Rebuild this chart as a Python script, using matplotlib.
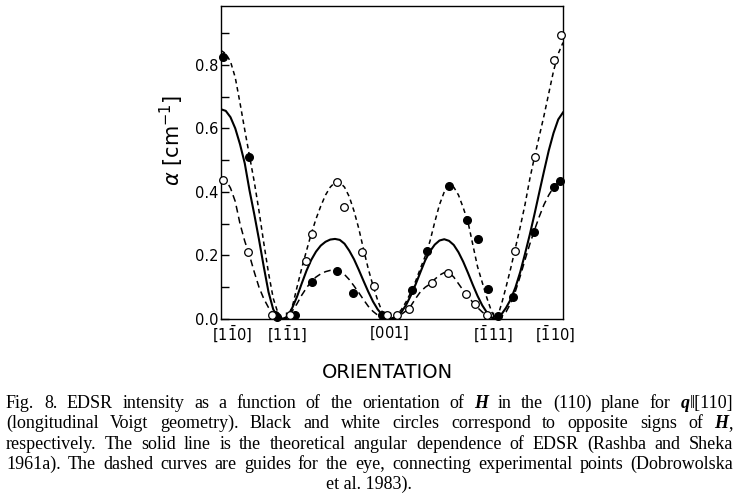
import matplotlib
matplotlib.use("Agg")
import matplotlib.pyplot as plt
import matplotlib.transforms as mtransforms

# angle of H in the (110) plane, degrees from [1-10]
solid_x = [0, 2.5, 5, 7.5, 10, 12.5, 15, 17.5, 20, 22.5, 25, 27.5, 30, 33,
           35, 37.5, 40, 42.5, 45, 47.5, 50, 52.5, 55, 57.5, 60, 62.5, 65, 67.5,
           70, 72.5, 75, 77.5, 80, 82.5, 85, 87.5, 89,
           92.5, 95, 97.5, 100, 102.5, 105, 107.5, 110, 112.5, 115, 117.5, 120,
           122.5, 125, 127.5, 130, 132.5, 135, 137.5, 140, 142.5, 144,
           146, 148, 150, 152.5, 155, 157.5, 160, 162.5, 165, 167.5, 170, 172.5,
           175, 177.5, 180]
solid_y = [0.660, 0.655, 0.635, 0.600, 0.550, 0.490, 0.405, 0.330, 0.250, 0.165,
           0.085, 0.030, 0.006, 0.000,
           0.008, 0.035, 0.070, 0.112, 0.152, 0.186, 0.212, 0.231, 0.243, 0.250,
           0.252, 0.249, 0.237, 0.215, 0.188, 0.155, 0.120, 0.086, 0.055, 0.030,
           0.012, 0.002, 0.000,
           0.008, 0.022, 0.045, 0.075, 0.110, 0.148, 0.185, 0.213, 0.234, 0.247,
           0.251, 0.246, 0.233, 0.210, 0.180, 0.145, 0.108, 0.073, 0.043, 0.020,
           0.005, 0.000,
           0.005, 0.018, 0.035, 0.062, 0.100, 0.148, 0.205, 0.265, 0.330, 0.398,
           0.465, 0.530, 0.585, 0.628, 0.650]

# upper dashed guide
upper_x = [0, 2.5, 5, 7.5, 10, 12.5, 15, 17.5, 20, 22.5, 25, 27.5, 30, 32, 34,
           36, 38, 40, 42.5, 45, 47.5, 50, 52.5, 55, 57.5, 60, 62.5, 65, 67.5,
           70, 72.5, 75, 77.5, 80, 82.5, 85, 87.5, 89,
           90, 92.5, 95, 97.5, 100, 102.5, 105, 107.5, 110, 112.5, 115, 117.5,
           120, 122.5, 125, 127.5, 130, 132.5, 135, 137.5, 140, 142.5, 144.5,
           146.5, 148, 150, 152.5, 155, 157.5, 160, 162.5, 165, 167.5, 170,
           172.5, 175, 177.5, 180]
upper_y = [0.845, 0.835, 0.810, 0.760, 0.680, 0.595, 0.513, 0.432, 0.340, 0.240,
           0.145, 0.065, 0.018, 0.003, 0.000,
           0.010, 0.050, 0.100, 0.160, 0.215, 0.268, 0.315, 0.355, 0.390, 0.415,
           0.430, 0.430, 0.415, 0.385, 0.340, 0.285, 0.220, 0.158, 0.105, 0.058,
           0.020, 0.003, 0.000,
           0.001, 0.012, 0.030, 0.055, 0.085, 0.120, 0.160, 0.198, 0.245, 0.305,
           0.360, 0.400, 0.420, 0.415, 0.390, 0.350, 0.305, 0.235, 0.165, 0.115,
           0.065, 0.022, 0.002,
           0.025, 0.055, 0.100, 0.160, 0.225, 0.290, 0.360, 0.440, 0.510, 0.575,
           0.640, 0.710, 0.780, 0.835, 0.870]

# lower dashed guide
lower_x = [0, 2.5, 5, 7.5, 10, 12.5, 15, 17.5, 20, 22.5, 25, 27.5, 30, 32,
           35, 37.5, 40, 42.5, 45, 47.5, 50, 52.5, 55, 57.5, 60, 62.5, 65, 67.5,
           70, 72.5, 75, 77.5, 80, 82.5, 85, 87.5,
           90, 92.5, 95, 97.5, 100, 102.5, 105, 107.5, 110, 112.5, 115, 117.5,
           120, 122.5, 125, 127.5, 130, 132.5, 135, 137.5, 140, 142.5, 145,
           147.5, 150, 152.5, 155, 157.5, 160, 162.5, 165, 167.5, 170, 172.5,
           175, 177.5, 180]
lower_y = [0.445, 0.438, 0.412, 0.370, 0.300, 0.245, 0.200, 0.148, 0.100, 0.064,
           0.036, 0.016, 0.004, 0.000,
           0.008, 0.025, 0.048, 0.075, 0.098, 0.118, 0.132, 0.142, 0.149, 0.153,
           0.153, 0.150, 0.140, 0.124, 0.104, 0.083, 0.061, 0.040, 0.024, 0.012,
           0.004, 0.000,
           0.000, 0.006, 0.015, 0.026, 0.042, 0.065, 0.086, 0.100, 0.110, 0.125,
           0.138, 0.146, 0.146, 0.132, 0.111, 0.090, 0.070, 0.053, 0.036, 0.022,
           0.010, 0.003, 0.000,
           0.006, 0.022, 0.050, 0.088, 0.135, 0.186, 0.235, 0.280, 0.322, 0.360,
           0.390, 0.414, 0.430, 0.438]

# experimental points: black and white circles
black_x = [1, 14.7, 28.4, 29.6, 39, 47.7, 60.9, 69.6, 84.7, 100.7, 108.6, 120.2,
           129.6, 135.3, 140.7, 145.6, 153.8, 164.7, 175, 178.4]
black_y = [0.826, 0.511, 0.012, 0.007, 0.013, 0.118, 0.152, 0.081, 0.013, 0.091,
           0.214, 0.420, 0.312, 0.252, 0.093, 0.010, 0.068, 0.274, 0.414, 0.435]
white_x = [1, 14.4, 27, 36.5, 44.7, 47.7, 60.9, 64.7, 74.4, 80.7, 87.5, 92.8, 99,
           110.9, 119.6, 128.9, 133.7, 139.8, 154.5, 165.3, 175.4, 179]
white_y = [0.438, 0.212, 0.012, 0.012, 0.184, 0.268, 0.432, 0.351, 0.212, 0.104,
           0.013, 0.013, 0.032, 0.112, 0.144, 0.080, 0.046, 0.013, 0.213, 0.511,
           0.814, 0.895]

tick_pos = [34.2, 88.9, 143.2]
label_pos = [6.0, 34.7, 88.4, 143, 176.0]
labels = [r'$[1\bar{1}0]$', r'$[1\bar{1}1]$', r'$[001]$', r'$[\bar{1}11]$', r'$[\bar{1}10]$']

caption = [
    "Fig. 8. EDSR intensity as a function of the orientation of *H* in the (110) plane for *q*\u2016[110]",
    "(longitudinal Voigt geometry). Black and white circles correspond to opposite signs of *H*,",
    "respectively. The solid line is the theoretical angular dependence of EDSR (Rashba and Sheka",
    "1961a). The dashed curves are guides for the eye, connecting experimental points (Dobrowolska",
]
caption_last = "et al. 1983)."

fig = plt.figure(figsize=(7.37, 5.0), dpi=100)
ax = fig.add_axes([221 / 737, 1 - 319 / 500, 342 / 737, 313 / 500])

ax.plot(solid_x, solid_y, color='black', lw=1.5)
ax.plot(upper_x, upper_y, color='black', lw=1.1, dashes=(3, 2.4))
ax.plot(lower_x, lower_y, color='black', lw=1.1, dashes=(4.5, 2.8))
ax.plot(black_x, black_y, 'o', color='black', ms=5.5, clip_on=False, zorder=5)
ax.plot(white_x, white_y, 'o', mfc='white', mec='black', mew=0.9, ms=5.5,
        clip_on=False, zorder=5)

ax.set_xlim(0, 180)
ax.set_ylim(0, 0.985)
for s in ax.spines.values():
    s.set_linewidth(1.0)

ax.set_yticks([0.0, 0.2, 0.4, 0.6, 0.8])
ax.set_yticklabels(['0.0', '0.2', '0.4', '0.6', '0.8'])
ax.set_yticks([0.1, 0.3, 0.5, 0.7, 0.9], minor=True)
ax.tick_params(axis='y', which='both', direction='in', length=6, width=1,
               labelsize=10.5, pad=2)
ax.set_xticks(tick_pos)
ax.set_xticklabels([])
ax.tick_params(axis='x', direction='in', length=5, width=1)

trans = mtransforms.blended_transform_factory(ax.transData, ax.transAxes)
for xp, lab in zip(label_pos, labels):
    ax.text(xp, -0.046, lab, transform=trans, ha='center', va='center', fontsize=10.5)

fig.text(172 / 737, 1 - 140 / 500, r'$\alpha$ [cm$^{-1}$]', rotation=90,
         ha='center', va='center', fontsize=15)
fig.text(387 / 737, 1 - 373 / 500, 'ORIENTATION', ha='center', va='center',
         fontsize=14)

# justified caption
serif = ['Liberation Serif', 'DejaVu Serif']
renderer = fig.canvas.get_renderer()
left_px, right_px = 6, 733
W, H = fig.get_size_inches() * fig.dpi


def word_runs(word):
    parts = word.split('*')
    return [(p, i % 2 == 1) for i, p in enumerate(parts) if p]


def make_run(text, emph):
    return fig.text(0, 0, text, fontsize=13, family=serif,
                    weight='bold' if emph else 'normal',
                    style='italic' if emph else 'normal', va='baseline')


baseline = 408
for line in caption:
    words = line.split(' ')
    objs = []
    total = 0
    for w in words:
        runs = [make_run(t, e) for t, e in word_runs(w)]
        widths = [r.get_window_extent(renderer).width for r in runs]
        objs.append((runs, widths))
        total += sum(widths)
    gap = (right_px - left_px - total) / (len(words) - 1)
    xcur = left_px
    for runs, widths in objs:
        for r, wd in zip(runs, widths):
            r.set_position((xcur / W, 1 - baseline / H))
            xcur += wd
        xcur += gap
    baseline += 20.3

fig.text(369 / 737, 1 - baseline / 500, caption_last, fontsize=13, family=serif,
         ha='center', va='baseline')

fig.savefig('out.png', dpi=100)
